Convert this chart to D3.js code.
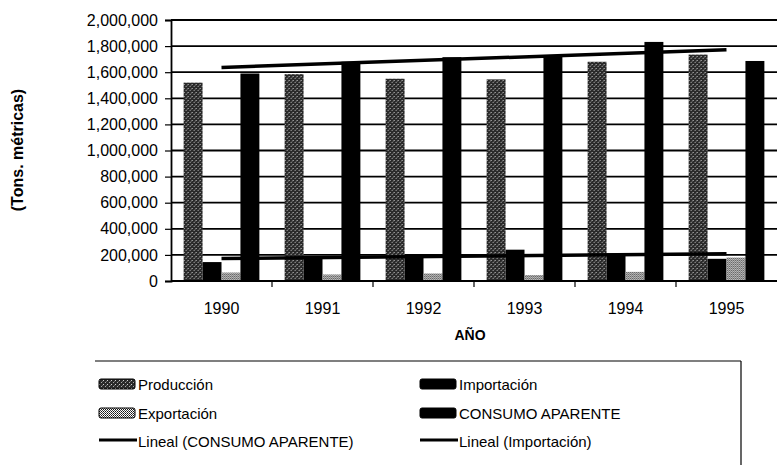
<!DOCTYPE html>
<html>
<head>
<meta charset="utf-8">
<script src="https://cdn.jsdelivr.net/npm/d3@7"></script>
<style>
  html, body { margin: 0; padding: 0; background: #fff; }
  svg { display: block; font-family: Arial, "Liberation Sans", sans-serif; }
</style>
</head>
<body>
<div id="chart"></div>
<script>
// Data (Tons. métricas)
const years = ["1990", "1991", "1992", "1993", "1994", "1995"];
const produccion = [1520000, 1585000, 1550000, 1545000, 1680000, 1735000];
const importacion = [145000, 185000, 190000, 240000, 212000, 170000];
const exportacion = [65000, 50000, 58000, 46000, 70000, 180000];
const consumo = [1590000, 1680000, 1715000, 1722000, 1832000, 1686000];
const seriesNames = ["Producción", "Importación", "Exportación", "CONSUMO APARENTE"];

const width = 779, height = 465;
const margin = { top: 20, right: 2, bottom: 184, left: 171 };

const svg = d3.select("#chart")
  .append("svg")
  .attr("width", width)
  .attr("height", height);

// Patterns for the scanned fills
const defs = svg.append("defs");
const pProd = defs.append("pattern")
  .attr("id", "prod").attr("width", 4).attr("height", 4)
  .attr("patternUnits", "userSpaceOnUse");
pProd.append("rect").attr("width", 4).attr("height", 4).attr("fill", "#2a2a2a");
pProd.append("rect").attr("x", 0).attr("y", 0).attr("width", 1).attr("height", 1).attr("fill", "#d0d0d0");
pProd.append("rect").attr("x", 2).attr("y", 2).attr("width", 1).attr("height", 1).attr("fill", "#a8a8a8");
pProd.append("rect").attr("x", 3).attr("y", 1).attr("width", 1).attr("height", 1).attr("fill", "#666");

const pExp = defs.append("pattern")
  .attr("id", "expo").attr("width", 2).attr("height", 2)
  .attr("patternUnits", "userSpaceOnUse");
pExp.append("rect").attr("width", 2).attr("height", 2).attr("fill", "#fff");
pExp.append("rect").attr("x", 0).attr("y", 0).attr("width", 1).attr("height", 1).attr("fill", "#111");
pExp.append("rect").attr("x", 1).attr("y", 1).attr("width", 1).attr("height", 1).attr("fill", "#444");

const fills = ["url(#prod)", "#000", "url(#expo)", "#000"];
const values = [produccion, importacion, exportacion, consumo];

// Scales
const x0 = d3.scaleBand()
  .domain(years)
  .range([margin.left, width - margin.right])
  .paddingInner(0.25)
  .paddingOuter(0.125);

const x1 = d3.scaleBand()
  .domain(d3.range(seriesNames.length))
  .range([0, x0.bandwidth()]);

const y = d3.scaleLinear()
  .domain([0, 2000000])
  .range([height - margin.bottom, margin.top]);

// Gridlines
svg.append("g")
  .selectAll("line")
  .data(y.ticks(10).filter(d => d > 0))
  .join("line")
  .attr("x1", margin.left)
  .attr("x2", width - margin.right)
  .attr("y1", d => y(d))
  .attr("y2", d => y(d))
  .attr("stroke", "#000")
  .attr("stroke-width", 1.8);

// Bars
const groups = svg.append("g")
  .selectAll("g")
  .data(years)
  .join("g")
  .attr("transform", d => `translate(${x0(d)},0)`);

groups.selectAll("rect")
  .data((d, i) => values.map((v, s) => ({ s, v: v[i] })))
  .join("rect")
  .attr("x", d => x1(d.s))
  .attr("width", x1.bandwidth())
  .attr("y", d => y(d.v))
  .attr("height", d => y(0) - y(d.v))
  .attr("fill", d => fills[d.s]);

// Linear trend lines (least squares over the category index)
function linearFit(vals) {
  const xs = vals.map((_, i) => i);
  const mx = d3.mean(xs), my = d3.mean(vals);
  const b = d3.sum(xs, (xv, i) => (xv - mx) * (vals[i] - my)) / d3.sum(xs, xv => (xv - mx) ** 2);
  const a = my - b * mx;
  return [a, a + b * (vals.length - 1)];
}

const cx = d => x0(d) + x0.bandwidth() / 2;
[consumo, importacion].forEach(vals => {
  const [v0, v1] = linearFit(vals);
  svg.append("line")
    .attr("x1", cx(years[0]))
    .attr("x2", cx(years[years.length - 1]))
    .attr("y1", y(v0))
    .attr("y2", y(v1))
    .attr("stroke", "#000")
    .attr("stroke-width", 3.5);
});

// Y axis
const yAxis = svg.append("g")
  .attr("transform", `translate(${margin.left},0)`)
  .call(d3.axisLeft(y).ticks(10).tickFormat(d3.format(",")).tickSize(6).tickPadding(7));
yAxis.select(".domain").attr("stroke", "#000").attr("stroke-width", 1.8);
yAxis.selectAll(".tick line").attr("stroke-width", 1.2);
yAxis.selectAll("text")
  .attr("font-size", 16)
  .attr("fill", "#000")
  .attr("font-family", "Arial, 'Liberation Sans', sans-serif");

// X axis: ticks sit on the category boundaries
const boundaries = years.map(d => x0(d) - x0.step() * x0.paddingInner() / 2).slice(1);
svg.append("line")
  .attr("x1", margin.left)
  .attr("x2", width - margin.right)
  .attr("y1", y(0))
  .attr("y2", y(0))
  .attr("stroke", "#000")
  .attr("stroke-width", 1.8);

svg.append("g")
  .selectAll("line")
  .data(boundaries)
  .join("line")
  .attr("x1", d => d)
  .attr("x2", d => d)
  .attr("y1", y(0))
  .attr("y2", y(0) + 6)
  .attr("stroke", "#000")
  .attr("stroke-width", 1.2);

svg.append("g")
  .selectAll("text")
  .data(years)
  .join("text")
  .attr("x", d => cx(d))
  .attr("y", 314)
  .attr("text-anchor", "middle")
  .attr("font-size", 16)
  .text(d => d);

// Axis titles
svg.append("text")
  .attr("x", 470)
  .attr("y", 340)
  .attr("text-anchor", "middle")
  .attr("font-size", 14)
  .attr("font-weight", "bold")
  .text("AÑO");

svg.append("text")
  .attr("transform", "translate(23,150) rotate(-90)")
  .attr("text-anchor", "middle")
  .attr("font-size", 16)
  .attr("font-weight", "bold")
  .text("(Tons. métricas)");

// Legend
const legend = svg.append("g");
legend.append("line")
  .attr("x1", 95).attr("x2", 741).attr("y1", 361).attr("y2", 361)
  .attr("stroke", "#000").attr("stroke-width", 1.2);
legend.append("line")
  .attr("x1", 741).attr("x2", 741).attr("y1", 361).attr("y2", height)
  .attr("stroke", "#000").attr("stroke-width", 1.2);

const legendItems = [
  { name: seriesNames[0], type: "box", fill: fills[0], col: 0, row: 0 },
  { name: seriesNames[1], type: "box", fill: fills[1], col: 1, row: 0 },
  { name: seriesNames[2], type: "box", fill: fills[2], col: 0, row: 1 },
  { name: seriesNames[3], type: "box", fill: fills[3], col: 1, row: 1 },
  { name: "Lineal (CONSUMO APARENTE)", type: "line", col: 0, row: 2 },
  { name: "Lineal (Importación)", type: "line", col: 1, row: 2 }
];
const colX = [99, 420];
const rowY = [384, 413, 441];

const li = legend.selectAll("g.item")
  .data(legendItems)
  .join("g")
  .attr("class", "item")
  .attr("transform", d => `translate(${colX[d.col]},${rowY[d.row]})`);

li.filter(d => d.type === "box")
  .append("rect")
  .attr("x", 0).attr("y", -5)
  .attr("width", 36).attr("height", 10)
  .attr("rx", 2)
  .attr("fill", d => d.fill)
  .attr("stroke", "#000")
  .attr("stroke-width", 1);

li.filter(d => d.type === "line")
  .append("line")
  .attr("x1", 0).attr("x2", 38)
  .attr("y1", -1).attr("y2", -1)
  .attr("stroke", "#000")
  .attr("stroke-width", 3);

li.append("text")
  .attr("x", 39)
  .attr("y", 5.5)
  .attr("font-size", 15)
  .text(d => d.name);
</script>
</body>
</html>
